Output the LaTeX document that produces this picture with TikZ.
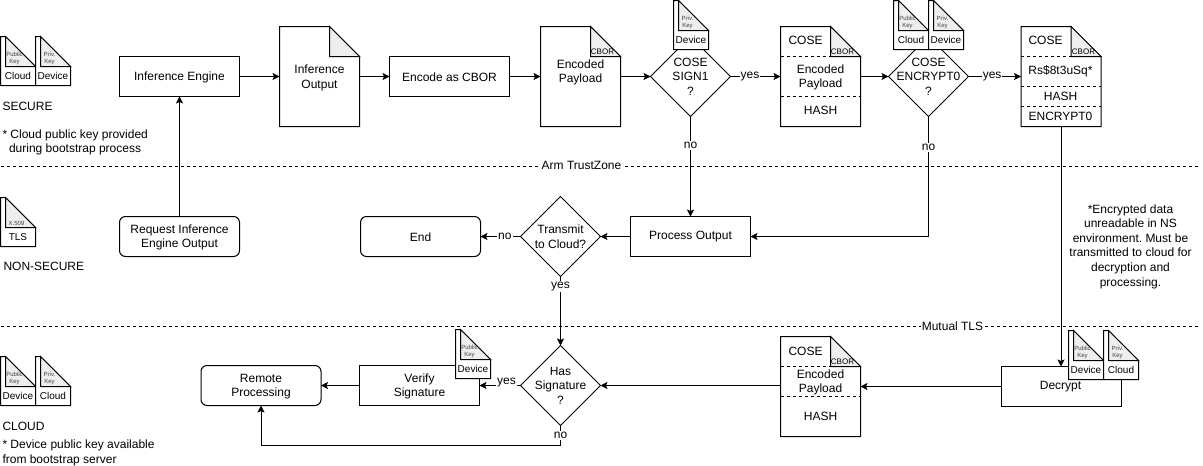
\documentclass[tikz,border=0pt]{standalone}
\usepackage{fontspec}
\setmainfont{Liberation Sans}
\frenchspacing
\usetikzlibrary{arrows.meta,shapes.geometric}
\tikzset{
  every node/.style={inner sep=0pt,outer sep=0pt,font=\fontsize{12}{14.6}\selectfont,align=center},
  flowbox/.style={draw=black,line width=1pt,fill=white,rectangle,minimum width=120pt,minimum height=40pt},
  roundbox/.style={flowbox,rounded corners=6pt},
  docbase/.style={rectangle,minimum width=80pt,minimum height=100pt},
  iconbase/.style={rectangle,minimum width=35pt,minimum height=49pt},
  decision/.style={draw=black,line width=1pt,fill=white,diamond,shape aspect=1,minimum width=80pt,minimum height=80pt},
  conn/.style={line width=1pt,draw=black,-{Stealth[length=7pt,width=7pt,inset=1.5pt]}},
  plain/.style={line width=1pt,draw=black},
  zone/.style={line width=1pt,draw=black,dash pattern=on 3pt off 3pt},
  outline/.style={line width=1pt,draw=black,fill=white,line join=miter},
  fold/.style={line width=1pt,draw=black,fill=foldgray},
  inner/.style={line width=1pt,draw=black,dash pattern=on 3pt off 3pt},
  lbl/.style={fill=white,inner sep=1pt},
  side/.style={anchor=west,align=left},
  iconlab/.style={font=\fontsize{10}{12}\selectfont},
  tiny/.style={font=\fontsize{6}{7}\selectfont,text=black!75},
  cbor/.style={font=\fontsize{8}{9}\selectfont},
}
\definecolor{foldgray}{HTML}{EEEEEE}
% document shape: name, left, top
\newcommand{\docsh}[3]{%
  \node[docbase] (#1) at (#2+40,#3+50) {};
  \path[outline] (#2,#3) -- (#2+50,#3) -- (#2+80,#3+30) -- (#2+80,#3+100) -- (#2,#3+100) -- cycle;
  \path[fold] (#2+50,#3) -- (#2+50,#3+30) -- (#2+80,#3+30) -- cycle;
}
% key icon: name, left, top, label, small line 1, small line 2
\newcommand{\kicon}[6]{%
  \node[iconbase] (#1) at (#2+17.5,#3+24.5) {};
  \path[outline] (#2,#3) -- (#2+5,#3) -- (#2+35,#3+30) -- (#2+35,#3+49) -- (#2,#3+49) -- cycle;
  \path[fold] (#2+5,#3) -- (#2+5,#3+30) -- (#2+35,#3+30) -- cycle;
  \node[tiny] (#1a) at (#2+14,#3+18) {#5};
  \node[tiny] (#1b) at (#2+14,#3+26) {#6};
  \node[iconlab] (#1c) at (#2+17.5,#3+39.5) {#4};
}
\begin{document}
\begin{tikzpicture}[x=1pt,y=-1pt]
\useasboundingbox (0,0) rectangle (1203,466);
\fill[white] (0,0) rectangle (1203,466);
\begin{scope}[shift={(0.5,0.5)}]
% zone separators
\coordinate (zaL) at (0,166);
\coordinate (zaR) at (1197,166);
\coordinate (zbL) at (0,326);
\coordinate (zbR) at (1197,326);
\draw[zone] (zaL) -- (zaR);
\draw[zone] (zbL) -- (zbR);
\node[lbl] (zat) at (581,165) {Arm TrustZone};
\node[lbl] (zbt) at (952,326) {Mutual TLS};

% nodes
\node[flowbox] (engine) at (179,76) {};
\node (enginet) at (179,76.5) {Inference Engine};
\docsh{output}{279}{26}
\node (outputt) at (319,77.5) {Inference\\Output};
\node[flowbox] (encode) at (449,76) {};
\node (encodet) at (449,76.5) {Encode as CBOR};
\docsh{payload}{540}{26}
\node[cbor] (payloadc) at (602,51) {CBOR};
\node (payloadt) at (580,72) {Encoded\\Payload};
\node[decision] (sign) at (690,76) {};
\node (signt) at (690,76) {COSE\\SIGN1\\?};
\kicon{ksign}{673}{0}{Device}{Priv.}{Key}

\docsh{signed}{780}{26}
\draw[inner] (780,56) -- (860,56);
\draw[inner] (780,96) -- (860,96);
\node (signedh) at (805,40) {COSE};
\node[cbor] (signedc) at (842,51) {CBOR};
\node (signedt) at (820,77) {Encoded\\Payload};
\node (signedf) at (820,110) {HASH};

\node[decision] (enc) at (928,76) {};
\node (enct) at (928,76) {COSE\\ENCRYPT0\\?};
\kicon{kenca}{893}{0}{Cloud}{Public}{Key}
\kicon{kencb}{928}{0}{Device}{Priv.}{Key}

\docsh{sealed}{1020.5}{26}
\draw[inner] (1020.5,56) -- (1100.5,56);
\draw[inner] (1020.5,86) -- (1100.5,86);
\draw[inner] (1020.5,106) -- (1100.5,106);
\node (sealedh) at (1045,40) {COSE};
\node[cbor] (sealedc) at (1083,51) {CBOR};
\node (sealedt) at (1060,71) {Rs\$8t3uSq*};
\node (sealedf) at (1060,96) {HASH};
\node (sealedg) at (1060,116) {ENCRYPT0};

\node[roundbox] (request) at (179,236) {};
\node (requestt) at (179,237) {Request Inference\\Engine Output};
\node[roundbox] (finish) at (420,236) {};
\node (finisht) at (420,236.5) {End};
\node[decision] (transmit) at (560,236) {};
\node (transmitt) at (560,236) {Transmit\\to Cloud?};
\node[flowbox] (process) at (690,236) {};
\node (processt) at (690,236.5) {Process Output};

\node[roundbox] (remote) at (260.5,385) {};
\node (remotet) at (260.5,386) {Remote\\Processing};
\node[flowbox] (verify) at (419,385) {};
\node (verifyt) at (419,386) {Verify\\Signature};
\node[decision] (has) at (560,385) {};
\node (hast) at (560,385) {Has\\Signature\\?};
\docsh{received}{780}{336}
\draw[inner] (780,366) -- (860,366);
\draw[inner] (780,396) -- (860,396);
\node (receivedh) at (805,351) {COSE};
\node[cbor] (receivedc) at (842,361) {CBOR};
\node (receivedt) at (820,382) {Encoded\\Payload};
\node (receivedf) at (820,416) {HASH};
\node[flowbox] (decrypt) at (1060.5,386) {};
\node (decryptt) at (1060,386.5) {Decrypt};

% connectors
\coordinate (noturn) at (560,445);
\draw[conn] (request) -- (engine);
\draw[conn] (engine) -- (output);
\draw[conn] (output) -- (encode);
\draw[conn] (encode) -- (payload);
\draw[conn] (payload) -- (sign);
\draw[conn] (sign) -- node[lbl,pos=.39] (ly1) {yes} (signed);
\draw[conn] (signed) -- (enc);
\draw[conn] (enc) -- node[lbl,pos=.45] (ly2) {yes} (sealed);
\draw[conn] (sign) -- node[lbl,pos=.29] (ln1) {no} (process);
\draw[conn] (enc) |- node[lbl,pos=.13] (ln2) {no} (process);
\draw[conn] (process) -- (transmit);
\draw[conn] (transmit) -- node[lbl,pos=.39] (ln3) {no} (finish);
\draw[conn] (transmit.south) -- node[lbl,pos=.145] (ly3) {yes} (has.north);
\draw[conn] (sealed) -- (decrypt);
\draw[conn] (decrypt.west) -- (received.east);
\draw[conn] (received.west |- has.east) -- (has.east);
\draw[conn] (has.west) -- (verify.east);
\draw[conn] (verify) -- (remote);
\draw[plain] (has.south) -- node[lbl,pos=.5] (ln4) {no} (noturn);
\draw[conn] (noturn) -| (remote.south);
\node[lbl] (ly4) at (506,382) {yes};

% icons over boxes
\kicon{kver}{455}{329}{Device}{Public}{Key}
\kicon{kdeca}{1068}{330}{Device}{Public}{Key}
\kicon{kdecb}{1103}{330}{Cloud}{Priv.}{Key}

% legend, left column
\kicon{lsa}{0}{36}{Cloud}{Public}{Key}
\kicon{lsb}{35}{36}{Device}{Priv.}{Key}
\node[side] (secure) at (2,106) {SECURE};
\node[side] (securen) at (2,142) {* Cloud public key provided\\\hspace*{6.5pt}during bootstrap process};
\kicon{ltls}{0}{197}{TLS}{}{\hspace*{4pt}X.509}
\node[side] (nonsecure) at (3,266) {NON-SECURE};
\kicon{lca}{0}{356}{Device}{Public}{Key}
\kicon{lcb}{35}{356}{Cloud}{Priv.}{Key}
\node[side] (cloud) at (2,426) {CLOUD};
\node[side] (cloudn) at (2,452.5) {* Device public key available\\from bootstrap server};
\node (encnote) at (1130,246) {*Encrypted data\\unreadable in NS\\environment. Must be\\transmitted to cloud for\\decryption and\\processing.};
\end{scope}
\end{tikzpicture}
\end{document}
